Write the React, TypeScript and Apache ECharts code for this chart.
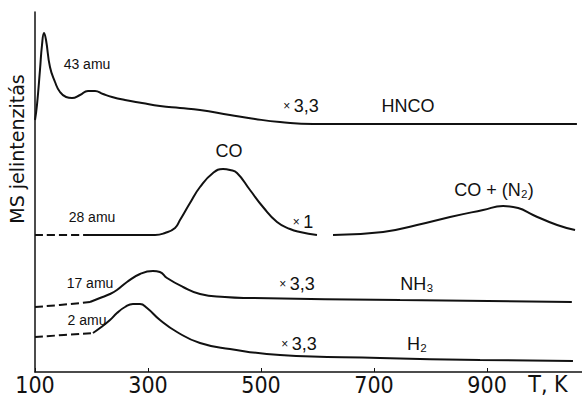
import React, { useEffect, useRef } from "react";
import * as echarts from "echarts";

// Temperature axis (K)
const T_MIN = 100;
const T_MAX = 1068;
const T_TICK = 200;

// 43 amu – HNCO (×3.3)
const hncoT = [100, 103.5, 108.8, 112.4, 116, 119.5, 126.5, 135.4, 144.2, 155, 165.5, 179.6, 193.8, 206.2, 220.4, 236.3, 259.3, 289.4, 321.2, 356.6, 392, 445, 489.4, 533.6, 592, 746, 923, 1059];
const hncoI = [252, 267, 302, 327, 339, 332, 305, 290, 280, 275, 274, 277, 281, 281, 278, 275, 272, 269, 266, 264, 262, 257, 253, 250, 248, 248, 248, 248];

// 28 amu – CO (×1), dashed start, main peak, then CO + (N2) peak
const coDashT = [100, 197.3];
const coDashI = [137, 137];
const coT = [197.3, 312.4, 330, 347.8, 356.6, 374.3, 392, 415, 432.7, 445, 457.5, 480.5, 503.5, 528.3, 551.3, 569, 599];
const coI = [137, 137, 139, 144, 152, 169, 185, 199, 203, 202, 199, 182, 165, 150, 143, 140, 137];
const coN2T = [627.4, 716, 776, 834.5, 893, 928.3, 955, 981.4, 1024, 1055.7];
const coN2I = [137, 140, 147, 155, 162, 166, 164, 157, 147, 142];

// 17 amu – NH3 (×3.3)
const nh3DashT = [100, 144, 197.3];
const nh3DashI = [65, 67, 70];
const nh3T = [197.3, 215, 232.7, 245, 262.8, 285.8, 308.8, 321, 333.6, 362, 392, 436, 480.5, 746, 1050];
const nh3I = [70, 74, 78, 82, 90, 98, 101, 100, 94, 85, 78, 75, 74, 72, 70];

// 2 amu – H2 (×3.3)
const h2DashT = [100, 202.6];
const h2DashI = [35, 39];
const h2T = [202.6, 215, 232.7, 245, 259.3, 273.4, 285.8, 298.2, 321.2, 351.3, 392, 445, 533.6, 710.6, 887.6, 1052];
const h2I = [39, 44, 52, 59, 65, 68, 68, 64, 52, 40, 29, 23, 17, 14, 12, 11];

const INK = "#111";
const LABEL_FONT = "'Liberation Sans', Arial, 'DejaVu Sans', sans-serif";
const NARROW_FONT = "'Liberation Sans Narrow', 'DejaVu Sans Condensed', 'Liberation Sans', sans-serif";

const zip = (xs: number[], ys: number[]) => xs.map((x, i) => [x, ys[i]]);

function curve(name: string, xs: number[], ys: number[], dashed = false) {
  return {
    name,
    type: "line",
    data: zip(xs, ys),
    showSymbol: false,
    smooth: 0.5,
    lineStyle: { color: INK, width: 2, type: dashed ? [8, 4] : "solid" },
    silent: true,
  };
}

function label(text: string, x: number, y: number, fontSize = 18, font = LABEL_FONT) {
  return {
    type: "text",
    x,
    y,
    silent: true,
    style: { text, fill: INK, fontSize, fontFamily: font, align: "center", verticalAlign: "middle" },
  };
}

function factor(value: string, x: number, y: number) {
  return {
    type: "text",
    x,
    y,
    silent: true,
    style: {
      text: `{m|×} {n|${value}}`,
      fill: INK,
      align: "center",
      verticalAlign: "middle",
      rich: {
        m: { fontSize: 12, fontFamily: LABEL_FONT, fill: INK },
        n: { fontSize: 18, fontFamily: LABEL_FONT, fill: INK },
      },
    },
  };
}

export default function App() {
  const ref = useRef<HTMLDivElement>(null);

  useEffect(() => {
    if (!ref.current) return;
    const chart = echarts.init(ref.current, null, { renderer: "svg" });
    chart.setOption({
      animation: false,
      backgroundColor: "#fff",
      grid: { left: 35, right: 0, top: 12, bottom: 26 },
      xAxis: {
        type: "value",
        min: T_MIN,
        max: T_MAX,
        interval: T_TICK,
        axisLine: { lineStyle: { color: INK, width: 1.5 } },
        axisTick: { inside: true, length: 4, lineStyle: { color: INK } },
        splitLine: { show: false },
        axisLabel: {
          color: INK,
          fontSize: 23,
          fontFamily: NARROW_FONT,
          margin: 1,
          showMaxLabel: false,
        },
      },
      yAxis: {
        type: "value",
        min: 0,
        max: 360,
        axisLine: { show: true, lineStyle: { color: INK, width: 1.5 } },
        axisTick: { show: false },
        axisLabel: { show: false },
        splitLine: { show: false },
      },
      series: [
        curve("HNCO", hncoT, hncoI),
        curve("CO-dash", coDashT, coDashI, true),
        curve("CO", coT, coI),
        curve("CO+N2", coN2T, coN2I),
        curve("NH3-dash", nh3DashT, nh3DashI, true),
        curve("NH3", nh3T, nh3I),
        curve("H2-dash", h2DashT, h2DashI, true),
        curve("H2", h2T, h2I),
      ],
      graphic: [
        {
          type: "text",
          x: 17,
          y: 149,
          rotation: Math.PI / 2,
          silent: true,
          style: {
            text: "MS jelintenzitás",
            fill: INK,
            fontSize: 19,
            fontFamily: "'DejaVu Sans', sans-serif",
            align: "center",
            verticalAlign: "middle",
          },
        },
        label("43 amu", 87, 64, 14),
        factor("3,3", 301, 106),
        label("HNCO", 408, 106),
        label("CO", 229, 151),
        label("CO + (N₂)", 494, 190),
        label("28 amu", 92, 217, 14),
        factor("1", 303, 222),
        label("17 amu", 90, 283, 14),
        factor("3,3", 297, 284),
        label("NH₃", 417, 284),
        label("2 amu", 87, 320, 14),
        factor("3,3", 299, 344),
        label("H₂", 417, 344),
        label("T, K", 548, 384, 23, NARROW_FONT),
      ],
    });
    return () => chart.dispose();
  }, []);

  return (
    <div
      ref={ref}
      style={{ position: "fixed", left: 0, top: 0, width: 582, height: 398, background: "#fff" }}
    />
  );
}
